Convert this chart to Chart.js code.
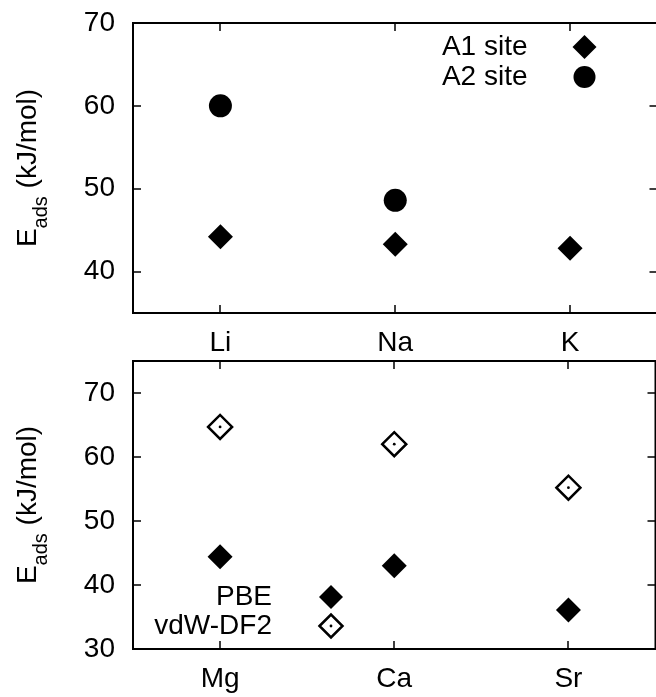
<!DOCTYPE html>
<html><head><meta charset="utf-8">
<script src="https://cdn.jsdelivr.net/npm/chart.js@4.4.0/dist/chart.umd.min.js"></script>
<style>
html,body{margin:0;padding:0;background:#fff;overflow:hidden;width:656px;height:697px;}
#wrap{position:relative;width:670px;height:697px;}
canvas{position:absolute;left:0;}
</style></head><body>
<div id="wrap">
<canvas id="top" width="670" height="360" style="top:0"></canvas>
<canvas id="bot" width="670" height="357" style="top:340px"></canvas>
</div>
<script>
// ---- data ----
const topCategories = ['Li', 'Na', 'K'];
const a1Site = [44.2, 43.3, 42.8];
const a2Site = [60.0, 48.6, null];
const topYTicks = [40, 50, 60, 70];

const botCategories = ['Mg', 'Ca', 'Sr'];
const pbe = [44.4, 43.0, 36.1];
const vdwDF2 = [64.7, 62.0, 55.2];
const botYTicks = [30, 40, 50, 60, 70];

const FONT = '"Liberation Sans", Arial, Helvetica, sans-serif';
Chart.defaults.font.family = FONT;
Chart.defaults.color = '#000';

function pts(arr) {
  return arr.map((v, i) => (v == null ? null : { x: i + 1, y: v })).filter(p => p);
}

const framePlugin = {
  id: 'frame',
  afterDatasetsDraw(chart) {
    const { ctx, chartArea: a, scales: { x, y } } = chart;
    ctx.save();
    ctx.strokeStyle = '#000';
    ctx.lineWidth = 1.5;
    const tl = 8;
    ctx.beginPath();
    x.ticks.forEach(t => {
      const px = Math.round(x.getPixelForValue(t.value));
      ctx.moveTo(px, a.top); ctx.lineTo(px, a.top + tl);
      ctx.moveTo(px, a.bottom); ctx.lineTo(px, a.bottom - tl);
    });
    y.ticks.forEach(t => {
      const py = Math.round(y.getPixelForValue(t.value));
      ctx.moveTo(a.left, py); ctx.lineTo(a.left + tl, py);
      ctx.moveTo(a.right, py); ctx.lineTo(a.right - tl, py);
    });
    ctx.stroke();
    ctx.lineWidth = 2;
    ctx.strokeRect(a.left, a.top, a.right - a.left, a.bottom - a.top);
    ctx.restore();
  }
};

const keyPlugin = {
  id: 'key',
  afterDatasetsDraw(chart, args, opts) {
    const { ctx, chartArea: a } = chart;
    ctx.save();
    ctx.font = '28px ' + FONT;
    ctx.textAlign = 'right';
    ctx.textBaseline = 'middle';
    opts.items.forEach(it => {
      const tx = opts.fromRight ? a.right - opts.textDx : a.left + opts.textDx;
      const mx = opts.fromRight ? a.right - opts.markDx : a.left + opts.markDx;
      const yy = opts.fromBottom ? a.bottom - it.dy : a.top + it.dy;
      ctx.fillStyle = '#000';
      ctx.fillText(it.text, tx, yy);
      ctx.fillStyle = it.fill;
      ctx.strokeStyle = '#000';
      ctx.lineWidth = it.borderWidth;
      Chart.helpers.drawPoint(ctx, { pointStyle: it.style, radius: it.radius, rotation: 0, borderWidth: it.borderWidth }, mx, yy);
      if (it.dot) {
        ctx.fillStyle = '#000';
        ctx.beginPath(); ctx.arc(mx, yy, 1.4, 0, Math.PI * 2); ctx.fill();
      }
    });
    ctx.restore();
  }
};

const titlePlugin = {
  id: 'ytitle',
  afterDraw(chart) {
    const { ctx, chartArea: a } = chart;
    const main = '28px ' + FONT, sub = '20px ' + FONT;
    ctx.save();
    ctx.font = main; const wE = ctx.measureText('E').width;
    ctx.font = sub; const wS = ctx.measureText('ads').width;
    ctx.font = main; const wR = ctx.measureText(' (kJ/mol)').width;
    const total = wE + wS + wR;
    ctx.translate(36, (a.top + a.bottom) / 2);
    ctx.rotate(-Math.PI / 2);
    ctx.fillStyle = '#000';
    ctx.textAlign = 'left';
    ctx.textBaseline = 'alphabetic';
    let px = -total / 2;
    ctx.font = main; ctx.fillText('E', px, 0); px += wE;
    ctx.font = sub; ctx.fillText('ads', px, 11); px += wS;
    ctx.font = main; ctx.fillText(' (kJ/mol)', px, 0);
    ctx.restore();
  }
};

function makeChart(id, cfg) {
  return new Chart(document.getElementById(id), {
    type: 'scatter',
    data: { datasets: cfg.datasets },
    options: {
      responsive: false,
      animation: false,
      devicePixelRatio: 1,
      layout: { padding: { top: cfg.padTop, right: 11, left: 0, bottom: 0 } },
      plugins: { legend: { display: false }, tooltip: { enabled: false }, key: cfg.key },
      scales: {
        x: {
          type: 'linear', min: 0.5, max: 3.5,
          grid: { display: false, drawTicks: false }, border: { display: false },
          afterBuildTicks: s => { s.ticks = cfg.cats.map((c, i) => ({ value: i + 1 })); },
          ticks: {
            callback: v => cfg.cats[Math.round(v) - 1],
            padding: 13, font: { size: 28 }, color: '#000', maxRotation: 0, autoSkip: false
          },
          afterFit: s => { s.height = cfg.xH; s.paddingLeft = 0; s.paddingRight = 0; }
        },
        y: {
          type: 'linear', min: cfg.yMin, max: cfg.yMax,
          grid: { display: false, drawTicks: false }, border: { display: false },
          afterBuildTicks: s => { s.ticks = cfg.yTicks.map(v => ({ value: v })); },
          ticks: { padding: 18, font: { size: 28 }, color: '#000' },
          afterFit: s => { s.width = 133; s.paddingTop = 0; s.paddingBottom = 0; }
        }
      }
    },
    plugins: [framePlugin, keyPlugin, titlePlugin]
  });
}

makeChart('top', {
  cats: topCategories, yTicks: topYTicks, yMin: 35, yMax: 70, padTop: 23, xH: 47,
  datasets: [
    { label: 'A1 site', data: pts(a1Site), pointStyle: 'rectRot', pointRadius: 12.5, backgroundColor: '#000', borderWidth: 0 },
    { label: 'A2 site', data: pts(a2Site), pointStyle: 'circle', pointRadius: 11.5, backgroundColor: '#000', borderWidth: 0 }
  ],
  key: {
    fromRight: true, fromBottom: false, textDx: 130, markDx: 73,
    items: [
      { text: 'A1 site', dy: 24, style: 'rectRot', radius: 12, fill: '#000', borderWidth: 0 },
      { text: 'A2 site', dy: 54, style: 'circle', radius: 11, fill: '#000', borderWidth: 0 }
    ]
  }
});

makeChart('bot', {
  cats: botCategories, yTicks: botYTicks, yMin: 30, yMax: 75, padTop: 21, xH: 48,
  datasets: [
    { label: 'vdW-DF2 centre', data: pts(vdwDF2), pointStyle: 'circle', pointRadius: 1.4, backgroundColor: '#000', borderWidth: 0 },
    { label: 'PBE', data: pts(pbe), pointStyle: 'rectRot', pointRadius: 12.5, backgroundColor: '#000', borderWidth: 0 },
    { label: 'vdW-DF2', data: pts(vdwDF2), pointStyle: 'rectRot', pointRadius: 12, backgroundColor: 'rgba(255,255,255,0)', borderColor: '#000', borderWidth: 2.5 }
  ],
  key: {
    fromRight: false, fromBottom: true, textDx: 139, markDx: 198,
    items: [
      { text: 'PBE', dy: 52, style: 'rectRot', radius: 12, fill: '#000', borderWidth: 0 },
      { text: 'vdW-DF2', dy: 23, style: 'rectRot', radius: 11.5, fill: '#fff', borderWidth: 2.5, dot: true }
    ]
  }
});
</script>
</body></html>
